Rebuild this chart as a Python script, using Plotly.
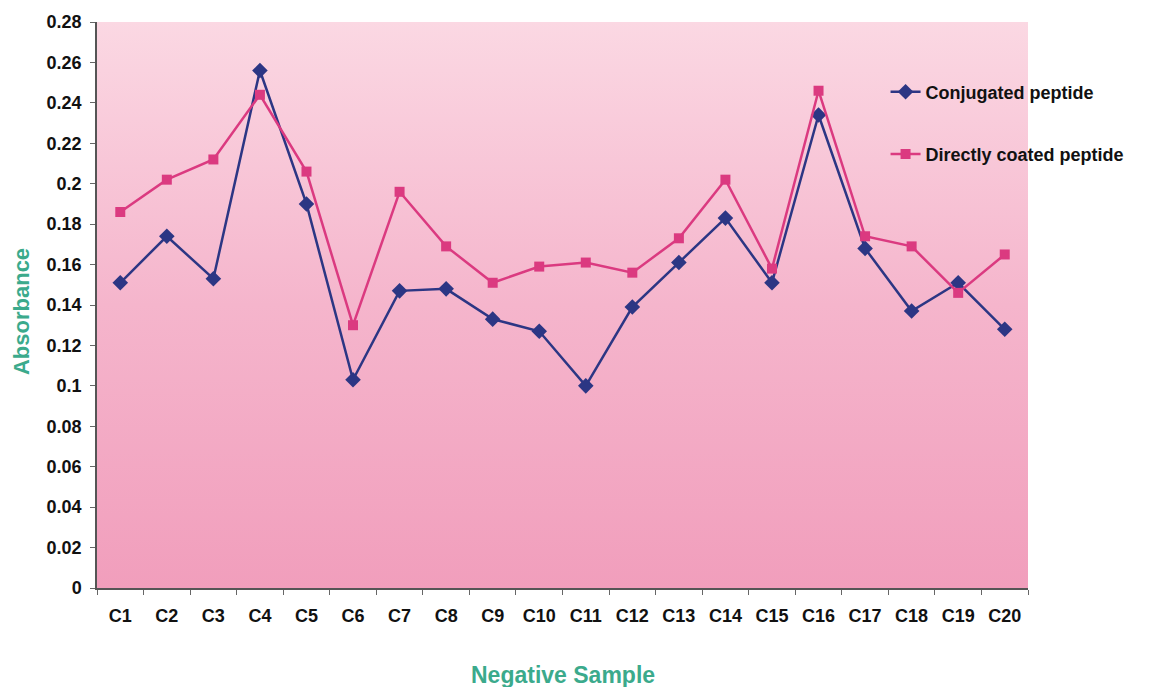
import plotly.graph_objects as go

# Sample labels and absorbance readings
samples = ["C1", "C2", "C3", "C4", "C5", "C6", "C7", "C8", "C9", "C10",
           "C11", "C12", "C13", "C14", "C15", "C16", "C17", "C18", "C19", "C20"]
conjugated = [0.151, 0.174, 0.153, 0.256, 0.190, 0.103, 0.147, 0.148, 0.133, 0.127,
              0.100, 0.139, 0.161, 0.183, 0.151, 0.234, 0.168, 0.137, 0.151, 0.128]
direct_coated = [0.186, 0.202, 0.212, 0.244, 0.206, 0.130, 0.196, 0.169, 0.151, 0.159,
                 0.161, 0.156, 0.173, 0.202, 0.158, 0.246, 0.174, 0.169, 0.146, 0.165]
y_ticks = [0, 0.02, 0.04, 0.06, 0.08, 0.1, 0.12, 0.14, 0.16, 0.18, 0.2, 0.22, 0.24, 0.26, 0.28]
y_ticktext = ["0", "0.02", "0.04", "0.06", "0.08", "0.1", "0.12", "0.14", "0.16", "0.18",
              "0.2", "0.22", "0.24", "0.26", "0.28"]

n = len(samples)
xs = list(range(1, n + 1))
ymax = 0.28

BLUE = "#2C3684"
PINK = "#DB3A80"
TEAL = "#3BAA8C"
FONT = "Liberation Sans, Arial, sans-serif"
TICKFONT = dict(family=FONT, size=18, color="#111111", weight="bold")

fig = go.Figure()

# Plot-area background with a vertical pink gradient
fig.add_trace(go.Scatter(
    x=[0.5, n + 0.5, n + 0.5, 0.5, 0.5],
    y=[0, 0, ymax, ymax, 0],
    mode="lines", line=dict(width=0),
    fill="toself",
    fillgradient=dict(type="vertical",
                      colorscale=[[0, "#F19EBC"], [0.5, "#F5B5CC"], [1, "#FBD8E3"]]),
    hoverinfo="skip", showlegend=False,
))

fig.add_trace(go.Scatter(
    x=xs, y=conjugated, name="Conjugated peptide",
    mode="lines+markers",
    line=dict(color=BLUE, width=2.5),
    marker=dict(symbol="diamond", size=12, color=BLUE),
    legendgroup="a",
))
fig.add_trace(go.Scatter(
    x=xs, y=direct_coated, name="Directly coated peptide",
    mode="lines+markers",
    line=dict(color=PINK, width=2.5),
    marker=dict(symbol="square", size=10, color=PINK),
    legendgroup="b",
))

fig.update_layout(
    width=1157, height=687,
    margin=dict(l=97, r=129, t=22, b=99),
    paper_bgcolor="white", plot_bgcolor="white",
    font=dict(family=FONT, size=18, color="#111111"),
    legend=dict(
        x=0.847, y=0.909, xanchor="left", yanchor="top",
        bgcolor="rgba(0,0,0,0)", traceorder="grouped", tracegroupgap=36,
        font=dict(family=FONT, size=18, color="#111111", weight="bold"),
    ),
    xaxis=dict(
        range=[0.5, n + 0.5], automargin=False,
        tickmode="array", tickvals=xs, ticktext=samples,
        ticks="", ticklabelstandoff=11,
        tickfont=TICKFONT,
        minor=dict(tickmode="array", tickvals=[i + 0.5 for i in range(n + 1)],
                   ticks="outside", ticklen=5, tickcolor="#666666", tickwidth=1),
        showline=True, linecolor="#555555", linewidth=1.5,
        showgrid=False, zeroline=False,
    ),
    yaxis=dict(
        range=[0, ymax], automargin=False,
        tickmode="array", tickvals=y_ticks, ticktext=y_ticktext,
        ticks="outside", ticklen=5, tickcolor="#666666", ticklabelstandoff=5,
        tickfont=TICKFONT,
        showline=True, linecolor="#555555", linewidth=1.5,
        showgrid=False, zeroline=False,
    ),
    annotations=[
        dict(text="Negative Sample", xref="paper", yref="paper",
             x=0.5, y=-0.1537, xanchor="center", yanchor="middle", showarrow=False,
             font=dict(family=FONT, size=23, color=TEAL, weight="bold")),
        dict(text="Absorbance", xref="paper", yref="paper",
             x=-0.0816, y=0.4876, xanchor="center", yanchor="middle", showarrow=False,
             textangle=-90,
             font=dict(family=FONT, size=22, color=TEAL, weight="bold")),
    ],
)

fig.write_html("out.html")
